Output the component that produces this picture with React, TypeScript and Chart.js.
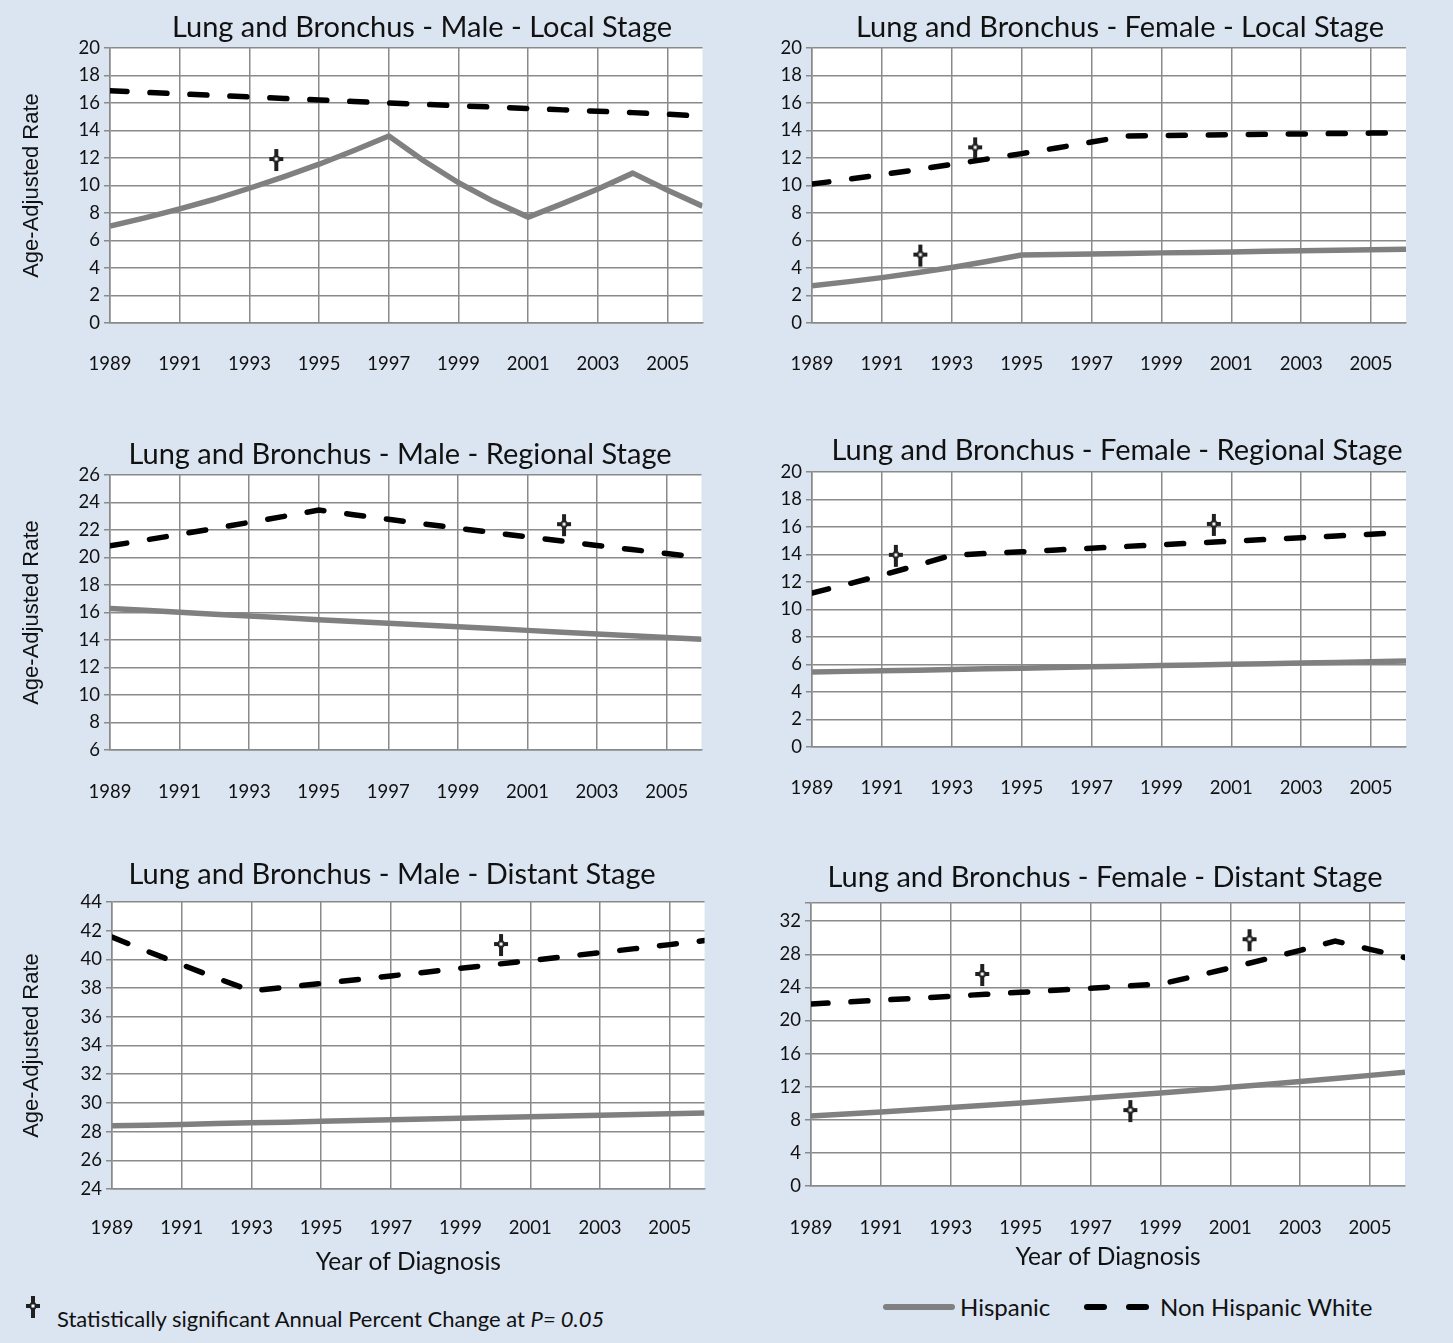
import React, { useEffect, useRef } from "react";
import { Chart, registerables } from "chart.js";
Chart.register(...registerables);

// ---------- data ----------
const years = [1989, 1990, 1991, 1992, 1993, 1994, 1995, 1996, 1997, 1998, 1999, 2000, 2001, 2002, 2003, 2004, 2005, 2006];
const xTickYears = [1989, 1991, 1993, 1995, 1997, 1999, 2001, 2003, 2005];

const maleLocalHispanic = [7.05, 7.65, 8.3, 9.0, 9.8, 10.65, 11.55, 12.55, 13.6, 11.8, 10.2, 8.85, 7.7, 8.7, 9.75, 10.9, 9.65, 8.5];
const maleLocalNHW = [16.9, 16.78, 16.66, 16.55, 16.44, 16.33, 16.22, 16.11, 16.0, 15.9, 15.8, 15.7, 15.6, 15.5, 15.4, 15.3, 15.18, 15.05];
const maleLocalSigX = [1993.77];
const maleLocalSigY = [11.85];

const femaleLocalHispanic = [2.7, 2.99, 3.3, 3.65, 4.04, 4.47, 4.95, 4.99, 5.02, 5.06, 5.1, 5.13, 5.17, 5.21, 5.25, 5.29, 5.33, 5.37];
const femaleLocalNHW = [10.1, 10.44, 10.79, 11.15, 11.53, 11.92, 12.32, 12.73, 13.16, 13.6, 13.63, 13.66, 13.69, 13.72, 13.75, 13.78, 13.81, 13.85];
const femaleLocalSigX = [1992.1, 1993.67];
const femaleLocalSigY = [4.9, 12.7];

const maleRegionalHispanic = [16.3, 16.16, 16.02, 15.88, 15.75, 15.61, 15.48, 15.35, 15.22, 15.09, 14.96, 14.83, 14.7, 14.57, 14.44, 14.31, 14.18, 14.05];
const maleRegionalNHW = [20.85, 21.26, 21.68, 22.11, 22.55, 22.99, 23.45, 23.11, 22.78, 22.45, 22.13, 21.81, 21.5, 21.19, 20.88, 20.58, 20.29, 20.0];
const maleRegionalSigX = [2002.05];
const maleRegionalSigY = [22.35];

const femaleRegionalHispanic = [5.45, 5.5, 5.54, 5.59, 5.64, 5.69, 5.73, 5.78, 5.83, 5.87, 5.92, 5.97, 6.01, 6.06, 6.11, 6.15, 6.2, 6.25];
const femaleRegionalNHW = [11.2, 11.83, 12.5, 13.2, 13.95, 14.08, 14.2, 14.33, 14.46, 14.59, 14.71, 14.84, 14.97, 15.1, 15.22, 15.35, 15.48, 15.6];
const femaleRegionalSigX = [1991.4, 2000.5];
const femaleRegionalSigY = [13.9, 16.15];

const maleDistantHispanic = [28.4, 28.45, 28.5, 28.56, 28.61, 28.66, 28.72, 28.77, 28.82, 28.88, 28.93, 28.98, 29.04, 29.09, 29.14, 29.2, 29.25, 29.3];
const maleDistantNHW = [41.55, 40.58, 39.63, 38.7, 37.8, 38.06, 38.32, 38.58, 38.85, 39.11, 39.38, 39.65, 39.92, 40.2, 40.47, 40.75, 41.03, 41.31];
const maleDistantSigX = [2000.16];
const maleDistantSigY = [41.0];

const femaleDistantHispanic = [8.45, 8.7, 8.95, 9.21, 9.48, 9.75, 10.04, 10.33, 10.63, 10.94, 11.25, 11.58, 11.92, 12.27, 12.62, 12.99, 13.37, 13.76];
const femaleDistantNHW = [22.0, 22.23, 22.46, 22.69, 22.93, 23.17, 23.41, 23.65, 23.9, 24.15, 24.4, 25.36, 26.36, 27.4, 28.48, 29.6, 28.6, 27.6];
const femaleDistantSigX = [1993.9, 1998.14, 2001.55];
const femaleDistantSigY = [25.5, 9.05, 29.7];

const ticks0to20 = [0, 2, 4, 6, 8, 10, 12, 14, 16, 18, 20];
const ticks6to26 = [6, 8, 10, 12, 14, 16, 18, 20, 22, 24, 26];
const ticks24to44 = [24, 26, 28, 30, 32, 34, 36, 38, 40, 42, 44];
const ticks0to32 = [0, 4, 8, 12, 16, 20, 24, 28, 32];

// ---------- styles ----------
const BG = "#dbe5f1";
const GRID = "#8a8a8a";
const HISP = "#808080";
const TEXT = "#111111";
const FONT = "Lato";

let markerCanvas: HTMLCanvasElement | null = null;
function getMarker(): HTMLCanvasElement {
  if (markerCanvas) return markerCanvas;
  const c = document.createElement("canvas");
  c.width = 18;
  c.height = 24;
  const g = c.getContext("2d")!;
  g.translate(9, 11);
  g.fillStyle = "#202020";
  g.fillRect(-2, -10, 4, 22);
  g.fillRect(-7, -2, 14, 4);
  g.beginPath();
  g.moveTo(0, -6);
  g.lineTo(5, 0);
  g.lineTo(0, 6);
  g.lineTo(-5, 0);
  g.closePath();
  g.fill();
  g.fillStyle = "#ffffff";
  g.fillRect(-1.5, -1.5, 3, 3);
  markerCanvas = c;
  return c;
}

type PanelCfg = {
  title: string;
  titleX: number;
  titleY: number;
  left: number;
  top: number;
  width: number;
  height: number;
  yAxisWidth: number;
  padRight: number;
  padTop: number;
  xAxisHeight: number;
  labelPad: number;
  xTitlePad: number;
  yMin: number;
  yMax: number;
  yTicks: number[];
  yTitle: boolean;
  xTitle: boolean;
  hispanic: number[];
  nhw: number[];
  sigX: number[];
  sigY: number[];
};

const panels: PanelCfg[] = [
  {
    title: "Lung and Bronchus - Male - Local Stage", titleX: 422, titleY: 28,
    left: 0, top: 0, width: 720, height: 400, yAxisWidth: 110, padRight: 15, padTop: 48, xAxisHeight: 77, labelPad: 30, xTitlePad: 0,
    yMin: 0, yMax: 20, yTicks: ticks0to20, yTitle: true, xTitle: false,
    hispanic: maleLocalHispanic, nhw: maleLocalNHW, sigX: maleLocalSigX, sigY: maleLocalSigY,
  },
  {
    title: "Lung and Bronchus - Female - Local Stage", titleX: 1120, titleY: 28,
    left: 720, top: 0, width: 733, height: 400, yAxisWidth: 92, padRight: 47, padTop: 48, xAxisHeight: 77, labelPad: 30, xTitlePad: 0,
    yMin: 0, yMax: 20, yTicks: ticks0to20, yTitle: false, xTitle: false,
    hispanic: femaleLocalHispanic, nhw: femaleLocalNHW, sigX: femaleLocalSigX, sigY: femaleLocalSigY,
  },
  {
    title: "Lung and Bronchus - Male - Regional Stage", titleX: 400, titleY: 455,
    left: 0, top: 400, width: 720, height: 430, yAxisWidth: 110, padRight: 15, padTop: 75, xAxisHeight: 80, labelPad: 31, xTitlePad: 0,
    yMin: 6, yMax: 26, yTicks: ticks6to26, yTitle: true, xTitle: false,
    hispanic: maleRegionalHispanic, nhw: maleRegionalNHW, sigX: maleRegionalSigX, sigY: maleRegionalSigY,
  },
  {
    title: "Lung and Bronchus - Female - Regional Stage", titleX: 1117, titleY: 451,
    left: 720, top: 400, width: 733, height: 430, yAxisWidth: 92, padRight: 47, padTop: 72, xAxisHeight: 83, labelPad: 30, xTitlePad: 0,
    yMin: 0, yMax: 20, yTicks: ticks0to20, yTitle: false, xTitle: false,
    hispanic: femaleRegionalHispanic, nhw: femaleRegionalNHW, sigX: femaleRegionalSigX, sigY: femaleRegionalSigY,
  },
  {
    title: "Lung and Bronchus - Male - Distant Stage", titleX: 392, titleY: 875,
    left: 0, top: 830, width: 720, height: 450, yAxisWidth: 112, padRight: 14, padTop: 72, xAxisHeight: 91, labelPad: 28, xTitlePad: 3,
    yMin: 24, yMax: 44, yTicks: ticks24to44, yTitle: true, xTitle: true,
    hispanic: maleDistantHispanic, nhw: maleDistantNHW, sigX: maleDistantSigX, sigY: maleDistantSigY,
  },
  {
    title: "Lung and Bronchus - Female - Distant Stage", titleX: 1105, titleY: 878,
    left: 720, top: 830, width: 733, height: 450, yAxisWidth: 91, padRight: 48, padTop: 73, xAxisHeight: 94, labelPad: 31, xTitlePad: 8,
    yMin: 0, yMax: 34.2, yTicks: [...ticks0to32, 34.2], yTitle: false, xTitle: true,
    hispanic: femaleDistantHispanic, nhw: femaleDistantNHW, sigX: femaleDistantSigX, sigY: femaleDistantSigY,
  },
];

function Panel({ cfg }: { cfg: PanelCfg }) {
  const ref = useRef<HTMLCanvasElement | null>(null);
  useEffect(() => {
    const canvas = ref.current!;
    const marker = getMarker();
    const plotBg = {
      id: "plotBg",
      beforeDraw(chart: any) {
        const { ctx, chartArea } = chart;
        ctx.save();
        ctx.fillStyle = "#ffffff";
        ctx.fillRect(chartArea.left, chartArea.top, chartArea.right - chartArea.left, chartArea.bottom - chartArea.top);
        ctx.restore();
      },
    };
    const titlePlugin = {
      id: "panelTitle",
      afterDraw(chart: any) {
        const { ctx } = chart;
        ctx.save();
        ctx.fillStyle = TEXT;
        ctx.font = `29px ${FONT}`;
        ctx.textAlign = "center";
        ctx.textBaseline = "middle";
        ctx.fillText(cfg.title, cfg.titleX - cfg.left, cfg.titleY - cfg.top);
        ctx.restore();
      },
    };
    const chart = new Chart(canvas, {
      type: "line",
      data: {
        datasets: [
          {
            label: "Hispanic",
            data: years.map((x, i) => ({ x, y: cfg.hispanic[i] })),
            borderColor: HISP,
            borderWidth: 5.5,
            pointRadius: 0,
            tension: 0,
            borderCapStyle: "butt",
            borderJoinStyle: "round",
          },
          {
            label: "Non Hispanic White",
            data: years.map((x, i) => ({ x, y: cfg.nhw[i] })),
            borderColor: "#000000",
            borderWidth: 5.5,
            borderDash: [17, 23],
            borderCapStyle: "round",
            pointRadius: 0,
            tension: 0,
          },
          {
            label: "Significant APC",
            data: cfg.sigX.map((x, i) => ({ x, y: cfg.sigY[i] })),
            showLine: false,
            pointStyle: marker as any,
            pointRadius: 10,
            clip: false as any,
          },
        ],
      },
      options: {
        animation: false,
        responsive: false,
        devicePixelRatio: 1,
        layout: { padding: { left: 0, right: cfg.padRight, top: cfg.padTop, bottom: 0 } },
        plugins: { legend: { display: false }, tooltip: { enabled: false }, title: { display: false } },
        scales: {
          x: {
            type: "linear",
            min: 1989,
            max: 2006,
            afterBuildTicks: (s: any) => {
              s.ticks = xTickYears.map((v) => ({ value: v }));
            },
            afterFit: (s: any) => {
              s.height = cfg.xAxisHeight;
            },
            grid: { color: GRID, lineWidth: 1.5, drawTicks: false },
            border: { color: GRID, width: 1.5 },
            ticks: {
              color: TEXT,
              font: { family: FONT, size: 18.5 },
              padding: cfg.labelPad,
              maxRotation: 0,
              autoSkip: false,
              callback: (v: any) => String(v),
            },
            title: {
              display: cfg.xTitle,
              text: "Year of Diagnosis",
              color: TEXT,
              font: { family: FONT, size: 24.5 },
              padding: { top: 0, bottom: cfg.xTitlePad },
            },
          },
          y: {
            type: "linear",
            min: cfg.yMin,
            max: cfg.yMax,
            afterBuildTicks: (s: any) => {
              s.ticks = cfg.yTicks.map((v) => ({ value: v }));
            },
            afterFit: (s: any) => {
              s.width = cfg.yAxisWidth;
            },
            grid: { color: GRID, lineWidth: 1.5, drawTicks: true, tickLength: 6 },
            border: { color: GRID, width: 1.5 },
            ticks: {
              color: TEXT,
              font: { family: FONT, size: 18.5 },
              padding: 4,
              callback: (v: any) => (Number.isInteger(v) ? String(v) : ""),
            },
            title: {
              display: cfg.yTitle,
              text: "Age-Adjusted Rate",
              color: TEXT,
              font: { family: "Liberation Sans", size: 22 },
              padding: { top: 19, bottom: 0 },
            },
          },
        },
      },
      plugins: [plotBg, titlePlugin],
    });
    return () => chart.destroy();
  }, [cfg]);
  return (
    <canvas
      ref={ref}
      width={cfg.width}
      height={cfg.height}
      style={{ position: "absolute", left: cfg.left, top: cfg.top, width: cfg.width, height: cfg.height }}
    />
  );
}

function LegendMarker() {
  const ref = useRef<HTMLCanvasElement | null>(null);
  useEffect(() => {
    const c = ref.current!;
    const g = c.getContext("2d")!;
    g.clearRect(0, 0, c.width, c.height);
    g.drawImage(getMarker(), 0, 0);
  }, []);
  return <canvas ref={ref} width={18} height={24} style={{ position: "absolute", left: 24, top: 1295 }} />;
}

export default function App() {
  return (
    <div
      style={{
        position: "absolute",
        left: 0,
        top: 0,
        width: 1453,
        height: 1343,
        background: BG,
        overflow: "hidden",
        fontFamily: FONT,
        color: TEXT,
      }}
    >
      {panels.map((p, i) => (
        <Panel key={i} cfg={p} />
      ))}
      <LegendMarker />
      <div style={{ position: "absolute", left: 57, top: 1305, fontSize: 22, lineHeight: "28px", whiteSpace: "nowrap" }}>
        Statistically significant Annual Percent Change at <i>P= 0.05</i>
      </div>
      <div style={{ position: "absolute", left: 883, top: 1304, width: 72, height: 6, borderRadius: 3, background: HISP }} />
      <div style={{ position: "absolute", left: 960, top: 1292, fontSize: 24, lineHeight: "30px", whiteSpace: "nowrap" }}>
        Hispanic
      </div>
      <div style={{ position: "absolute", left: 1084, top: 1304, width: 23, height: 6, borderRadius: 3, background: "#000" }} />
      <div style={{ position: "absolute", left: 1126, top: 1304, width: 23, height: 6, borderRadius: 3, background: "#000" }} />
      <div style={{ position: "absolute", left: 1160, top: 1292, fontSize: 24, lineHeight: "30px", whiteSpace: "nowrap" }}>
        Non Hispanic White
      </div>
    </div>
  );
}
